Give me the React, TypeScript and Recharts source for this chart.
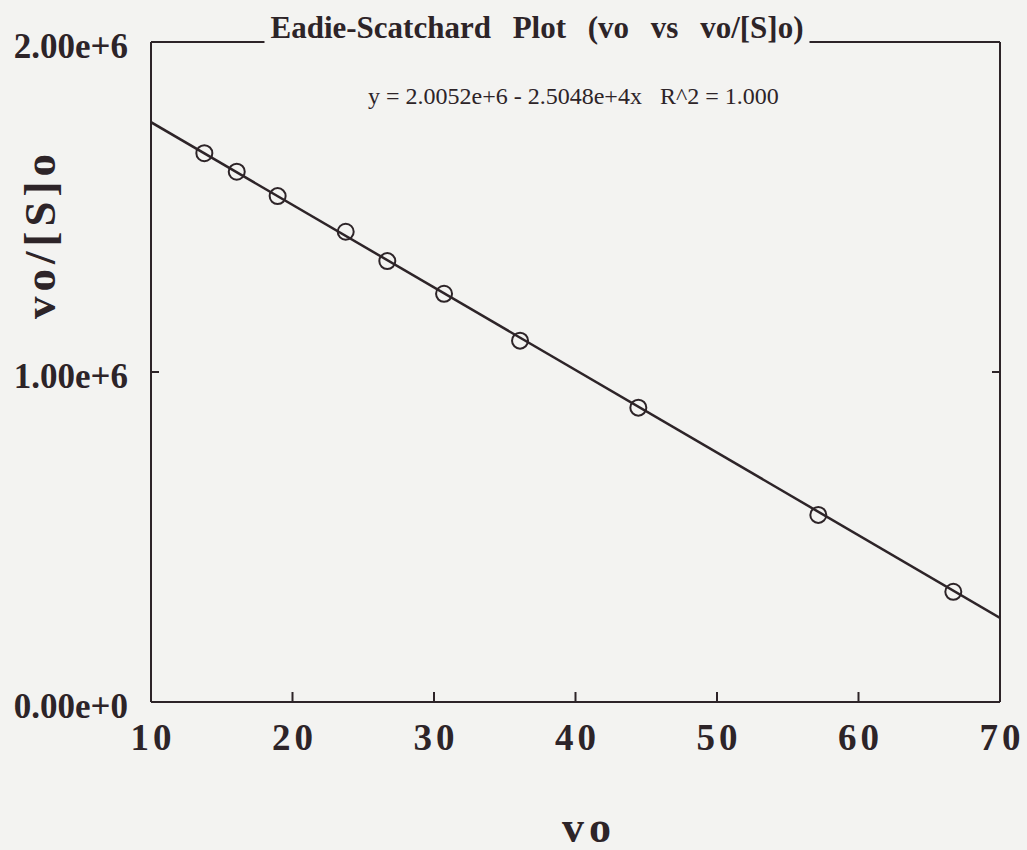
import { ComposedChart, Line, Scatter, XAxis, YAxis } from "recharts";

// values
const vo = [13.77, 16.06, 18.95, 23.76, 26.7, 30.71, 36.08, 44.44, 57.16, 66.7];
const voOverS = [1.663e6, 1.607e6, 1.533e6, 1.425e6, 1.336e6, 1.237e6, 1.095e6, 0.892e6, 0.567e6, 0.334e6];
const fitX = [10, 70];
const fitY = [1.757e6, 0.255e6];
const xTicks = [10, 20, 30, 40, 50, 60, 70];
const yTicks = [0, 1e6, 2e6];
const yTickLabels = ["0.00e+0", "1.00e+6", "2.00e+6"];

const points = vo.map((x, i) => ({ x, y: voOverS[i] }));
const fit = fitX.map((x, i) => ({ x, y: fitY[i] }));

const INK = "#2d2428";
const BG = "#f3f3f1";
const SERIF = "'Liberation Serif', 'Times New Roman', serif";

const BottomTick = ({ x, y, payload }: any) => (
  <g>
    <line x1={x} x2={x} y1={y} y2={y - 10} stroke={INK} strokeWidth={2} />
    <text x={x + 2} y={y + 48} textAnchor="middle" fill={INK} fontFamily={SERIF} fontWeight="bold" fontSize={37} letterSpacing={4}>
      {payload.value}
    </text>
  </g>
);

const TopTick = ({ x, y }: any) => <line x1={x} x2={x} y1={y} y2={y + 9} stroke={INK} strokeWidth={2} />;

const LeftTick = ({ x, y, payload, index }: any) => (
  <g>
    <line x1={x} x2={x + 8} y1={y} y2={y} stroke={INK} strokeWidth={2} />
    <text x={x - 23} y={y + 16} textAnchor="end" fill={INK} fontFamily={SERIF} fontWeight="bold" fontSize={35}>
      {yTickLabels[yTicks.indexOf(payload.value)] ?? yTickLabels[index]}
    </text>
  </g>
);

const RightTick = ({ x, y }: any) => <line x1={x} x2={x - 8} y1={y} y2={y} stroke={INK} strokeWidth={2} />;

const Ring = ({ cx, cy }: any) => <circle cx={cx} cy={cy} r={8} fill="none" stroke={INK} strokeWidth={2} />;

export default function App() {
  const axisLine = { stroke: INK, strokeWidth: 2 };
  return (
    <div style={{ position: "absolute", left: 0, top: 0, width: 1027, height: 850, background: BG, fontFamily: SERIF }}>
      <ComposedChart width={1027} height={850} margin={{ top: 32, right: 17, bottom: 88, left: 91 }}>
        <XAxis dataKey="x" type="number" domain={[10, 70]} ticks={xTicks} interval={0} allowDataOverflow height={60} tickSize={0} tickMargin={0} tickLine={false} axisLine={axisLine} tick={<BottomTick />} />
        <XAxis xAxisId="top" orientation="top" type="number" domain={[10, 70]} ticks={xTicks} interval={0} allowDataOverflow height={10} tickSize={0} tickMargin={0} tickLine={false} axisLine={axisLine} tick={<TopTick />} />
        <YAxis dataKey="y" type="number" domain={[0, 2e6]} ticks={yTicks} interval={0} allowDataOverflow width={60} tickSize={0} tickMargin={0} tickLine={false} axisLine={axisLine} tick={<LeftTick />} />
        <YAxis yAxisId="right" orientation="right" type="number" domain={[0, 2e6]} ticks={yTicks} interval={0} allowDataOverflow width={10} tickSize={0} tickMargin={0} tickLine={false} axisLine={axisLine} tick={<RightTick />} />
        <Line data={fit} dataKey="y" stroke={INK} strokeWidth={2.5} dot={false} isAnimationActive={false} />
        <Scatter data={points} dataKey="y" shape={<Ring />} isAnimationActive={false} />
      </ComposedChart>
      <div style={{ position: "absolute", left: 537, top: 12, transform: "translateX(-50%)", background: BG, padding: "0 6px", fontSize: 31, lineHeight: "31px", fontWeight: "bold", color: INK, whiteSpace: "pre", wordSpacing: 14 }}>
        Eadie-Scatchard Plot (vo vs vo/[S]o)
      </div>
      <div style={{ position: "absolute", left: 368, top: 84, fontSize: 24, lineHeight: "24px", color: INK, whiteSpace: "pre" }}>
        {"y = 2.0052e+6 - 2.5048e+4x   R^2 = 1.000"}
      </div>
      <div style={{ position: "absolute", left: 589, top: 806, transform: "translateX(-50%)", fontSize: 44, lineHeight: "44px", fontWeight: "bold", color: INK, letterSpacing: 5 }}>
        vo
      </div>
      <div style={{ position: "absolute", left: 40, top: 234, transform: "translate(-50%, -50%) rotate(-90deg)", fontSize: 45, lineHeight: "45px", fontWeight: "bold", color: INK, letterSpacing: 5, whiteSpace: "pre" }}>
        vo/[S]o
      </div>
    </div>
  );
}
